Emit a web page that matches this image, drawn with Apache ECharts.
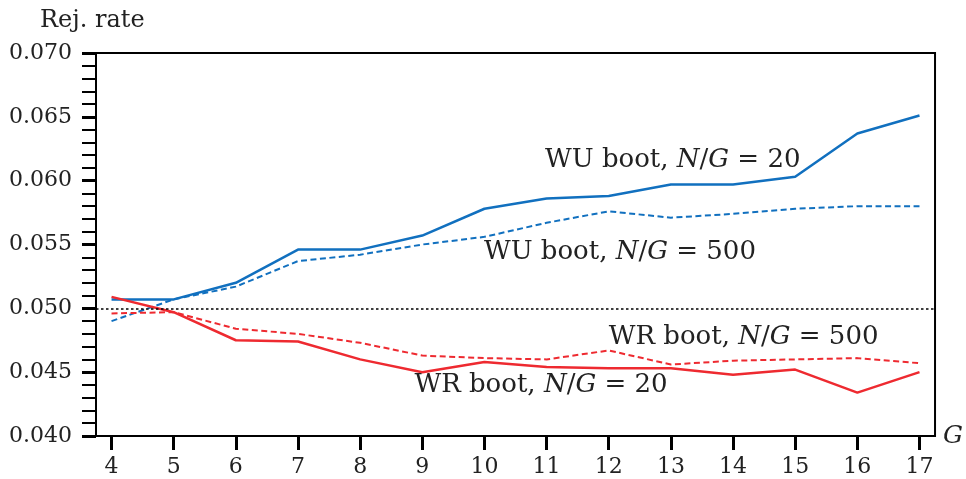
<!DOCTYPE html>
<html><head><meta charset="utf-8">
<script src="https://cdn.jsdelivr.net/npm/echarts@6/dist/echarts.min.js"></script>
<style>html,body{margin:0;padding:0;background:#fff}#c{width:966px;height:479px}</style>
</head><body><div id="c"></div>
<script>
const groups = [4,5,6,7,8,9,10,11,12,13,14,15,16,17];
const wu20  = [0.0507,0.0507,0.0520,0.0546,0.0546,0.0557,0.0578,0.0586,0.0588,0.0597,0.0597,0.0603,0.0637,0.0651];
const wu500 = [0.0490,0.0507,0.0517,0.0537,0.0542,0.0550,0.0556,0.0567,0.0576,0.0571,0.0574,0.0578,0.0580,0.0580];
const wr20  = [0.0509,0.0497,0.0475,0.0474,0.0460,0.0450,0.0458,0.0454,0.0453,0.0453,0.0448,0.0452,0.0434,0.0450];
const wr500 = [0.0496,0.0497,0.0484,0.0480,0.0473,0.0463,0.0461,0.0460,0.0467,0.0456,0.0459,0.0460,0.0461,0.0457];
const nominal = 0.050;
const xTickValues = groups;
const yMin = 0.040, yMax = 0.070, yStep = 0.005;
const yTitle = 'Rej. rate';
const xTitle = 'G';
const annWU20  = {coord:[13.03,0.0616], text:'{a|WU boot, }{i|N}{a|/}{i|G}{a| = 20}'};
const annWU500 = {coord:[12.18,0.0544], text:'{a|WU boot, }{i|N}{a|/}{i|G}{a| = 500}'};
const annWR500 = {coord:[14.17,0.0477], text:'{a|WR boot, }{i|N}{a|/}{i|G}{a| = 500}'};
const annWR20  = {coord:[10.91,0.0440], text:'{a|WR boot, }{i|N}{a|/}{i|G}{a| = 20}'};

const FONT = 'DejaVu Serif';
const BLUE = '#1170bf', RED = '#ee2a30';
const rich = {
  a:{fontFamily:FONT,fontSize:26,color:'#222'},
  i:{fontFamily:FONT,fontSize:26,fontStyle:'italic',color:'#222'}
};
function ann(a){
  return {data:[{coord:a.coord,symbol:'circle',symbolSize:1,itemStyle:{color:'rgba(0,0,0,0)'},
    label:{show:true,position:'inside',formatter:a.text,rich:rich}}]};
}
function pts(arr){ return groups.map((g,i)=>[g,arr[i]]); }

const chart = echarts.init(document.getElementById('c'));
chart.setOption({
  animation:false,
  backgroundColor:'#fff',
  title:{text:yTitle,left:40,top:9,padding:0,textStyle:{fontFamily:FONT,fontSize:24,fontWeight:'normal',color:'#222'}},
  grid:{left:96,right:28,top:53,bottom:43,show:true,borderColor:'#000',borderWidth:2,backgroundColor:'transparent'},
  xAxis:{
    type:'value',min:3.75,max:17.25,
    name:xTitle,nameLocation:'end',nameGap:8,
    nameTextStyle:{fontFamily:FONT,fontSize:25,fontStyle:'italic',color:'#222',align:'left',verticalAlign:'middle'},
    axisLine:{show:true,lineStyle:{color:'#000',width:2}},
    axisTick:{show:true,inside:false,length:14,lineStyle:{color:'#000',width:3},customValues:xTickValues},
    axisLabel:{show:true,margin:20,fontFamily:FONT,fontSize:22,color:'#222',customValues:xTickValues},
    splitLine:{show:false}
  },
  yAxis:{
    type:'value',min:yMin,max:yMax,interval:yStep,
    axisLine:{show:true,lineStyle:{color:'#000',width:2}},
    axisTick:{show:true,inside:false,length:14,lineStyle:{color:'#000',width:3}},
    minorTick:{show:true,splitNumber:5,length:14,lineStyle:{color:'#000',width:2}},
    axisLabel:{margin:24,fontFamily:FONT,fontSize:22,color:'#222',formatter:v=>v.toFixed(3)},
    splitLine:{show:false},minorSplitLine:{show:false}
  },
  series:[
    {name:'WU20',type:'line',data:pts(wu20),symbol:'none',lineStyle:{color:BLUE,width:2.5},
     markLine:{silent:true,symbol:'none',label:{show:false},lineStyle:{color:'#000',type:[2.5,2.5],width:1.5},data:[{yAxis:nominal}]},
     markPoint:ann(annWU20)},
    {name:'WU500',type:'line',data:pts(wu500),symbol:'none',lineStyle:{color:BLUE,width:2,type:[6,3.5]},markPoint:ann(annWU500)},
    {name:'WR500',type:'line',data:pts(wr500),symbol:'none',lineStyle:{color:RED,width:2,type:[6,3.5]},markPoint:ann(annWR500)},
    {name:'WR20',type:'line',data:pts(wr20),symbol:'none',lineStyle:{color:RED,width:2.5},markPoint:ann(annWR20)}
  ]
});
</script></body></html>
